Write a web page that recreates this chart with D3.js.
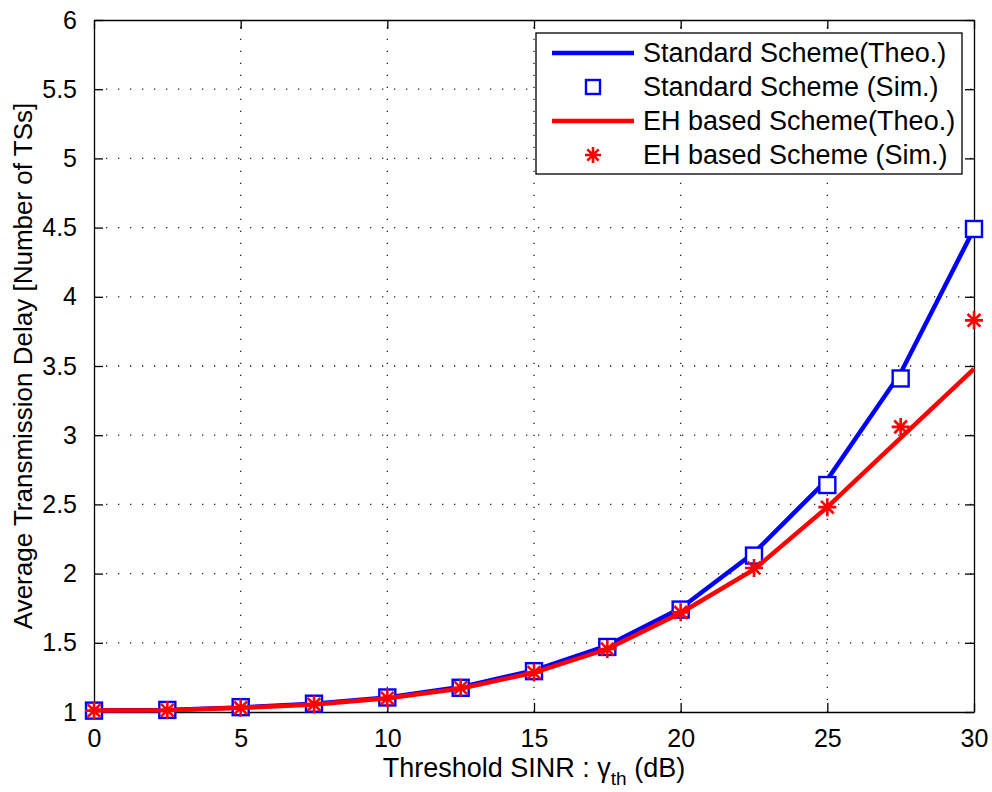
<!DOCTYPE html>
<html>
<head>
<meta charset="utf-8">
<script src="https://cdn.jsdelivr.net/npm/d3@7"></script>
<style>
  body { margin: 0; background: #fff; }
  svg text { font-family: "Liberation Sans", Arial, sans-serif; fill: #000; }
</style>
</head>
<body>
<div id="chart"></div>
<script>
// 数据：门限 SINR (dB) 与平均传输时延
const snr = [0, 2.5, 5, 7.5, 10, 12.5, 15, 17.5, 20, 22.5, 25, 27.5, 30];
const stdTheo = [1.01, 1.015, 1.033, 1.06, 1.105, 1.18, 1.30, 1.48, 1.75, 2.15, 2.68, 3.45, 4.49];
const stdSim  = [1.01, 1.015, 1.035, 1.06, 1.105, 1.175, 1.295, 1.47, 1.74, 2.13, 2.64, 3.41, 4.49];
const ehTheo  = [1.01, 1.013, 1.03, 1.055, 1.10, 1.17, 1.285, 1.455, 1.715, 2.03, 2.48, 2.98, 3.48];
const ehSim   = [1.01, 1.013, 1.03, 1.055, 1.10, 1.175, 1.285, 1.455, 1.72, 2.04, 2.48, 3.06, 3.83];
const xTicks = [0, 5, 10, 15, 20, 25, 30];
const yTicks = [1, 1.5, 2, 2.5, 3, 3.5, 4, 4.5, 5, 5.5, 6];
const legendLabels = ["Standard Scheme(Theo.)", "Standard Scheme (Sim.)", "EH based Scheme(Theo.)", "EH based Scheme (Sim.)"];

const width = 992, height = 792;
const margin = { left: 94, right: 18, top: 20, bottom: 80 };
const tickFont = 25, labelFont = 27;

const svg = d3.select("#chart").append("svg")
  .attr("width", width)
  .attr("height", height);

const x = d3.scaleLinear().domain([0, 30]).range([margin.left, width - margin.right]);
const y = d3.scaleLinear().domain([1, 6]).range([height - margin.bottom, margin.top]);

const x0 = x.range()[0], x1 = x.range()[1];
const y0 = y.range()[0], y1 = y.range()[1];

// 网格（点线）
const grid = svg.append("g").attr("class", "grid");
grid.selectAll("line.gx").data(xTicks.slice(1, -1)).enter().append("line")
  .attr("x1", d => x(d)).attr("x2", d => x(d))
  .attr("y1", y0).attr("y2", y1)
  .style("stroke", "#222").style("stroke-width", 1.3)
  .style("stroke-dasharray", "1.3,10.7");
grid.selectAll("line.gy").data(yTicks.slice(1, -1)).enter().append("line")
  .attr("y1", d => y(d)).attr("y2", d => y(d))
  .attr("x1", x0).attr("x2", x1)
  .style("stroke", "#222").style("stroke-width", 1.3)
  .style("stroke-dasharray", "1.3,10.7");

// 坐标轴（刻度向内）
const tickLen = 9;
svg.append("g")
  .attr("transform", `translate(0,${y0})`)
  .call(d3.axisBottom(x).tickValues(xTicks).tickSizeInner(-tickLen).tickSizeOuter(0).tickPadding(17));
svg.append("g")
  .attr("transform", `translate(0,${y1})`)
  .call(d3.axisTop(x).tickValues(xTicks).tickSizeInner(-tickLen).tickSizeOuter(0).tickFormat(""));
svg.append("g")
  .attr("transform", `translate(${x0},0)`)
  .call(d3.axisLeft(y).tickValues(yTicks).tickSizeInner(-tickLen).tickSizeOuter(0).tickPadding(17).tickFormat(d3.format("")));
svg.append("g")
  .attr("transform", `translate(${x1},0)`)
  .call(d3.axisRight(y).tickValues(yTicks).tickSizeInner(-tickLen).tickSizeOuter(0).tickFormat(""));

svg.selectAll(".domain").style("stroke", "#000").style("stroke-width", 1.3);
svg.selectAll(".tick line").style("stroke", "#000").style("stroke-width", 1.3);
svg.selectAll(".tick text")
  .style("font-size", tickFont + "px")
  .style("font-family", '"Liberation Sans", Arial, sans-serif');

// 轴标题
const xLabel = svg.append("text")
  .attr("x", (x0 + x1) / 2)
  .attr("y", 777)
  .attr("text-anchor", "middle")
  .style("font-size", labelFont + "px");
xLabel.append("tspan").text("Threshold SINR : ");
xLabel.append("tspan").text("γ");
xLabel.append("tspan").attr("dy", 8).style("font-size", "19px").text("th");
xLabel.append("tspan").attr("dy", -8).text(" (dB)");

svg.append("text")
  .attr("transform", `translate(32,${(y0 + y1) / 2}) rotate(-90)`)
  .attr("text-anchor", "middle")
  .style("font-size", "26px")
  .text("Average Transmission Delay [Number of TSs]");

// 曲线与标记
const line = d3.line().x((d, i) => x(snr[i])).y(d => y(d));
const plot = svg.append("g").attr("class", "plot");

function starPath(r) {
  const d = r * Math.SQRT1_2;
  return `M${-r},0L${r},0M0,${-r}L0,${r}M${-d},${-d}L${d},${d}M${-d},${d}L${d},${-d}`;
}
function drawSquares(g, data) {
  g.selectAll("rect.sq").data(data).enter().append("rect")
    .attr("class", "sq")
    .attr("x", (d, i) => x(snr[i]) - 8).attr("y", d => y(d) - 8)
    .attr("width", 16).attr("height", 16)
    .style("fill", "#fff").style("stroke", "#0000ff").style("stroke-width", 2.4);
}
function drawStars(g, data) {
  g.selectAll("path.star").data(data).enter().append("path")
    .attr("class", "star")
    .attr("transform", (d, i) => `translate(${x(snr[i])},${y(d)})`)
    .attr("d", starPath(9))
    .style("stroke", "#ff0000").style("stroke-width", 2.6).style("fill", "none");
}

plot.append("path").datum(stdTheo).attr("d", line)
  .style("fill", "none").style("stroke", "#0000ff").style("stroke-width", 4.5);
drawSquares(plot.append("g"), stdSim);
plot.append("path").datum(ehTheo).attr("d", line)
  .style("fill", "none").style("stroke", "#ff0000").style("stroke-width", 4.5);
drawStars(plot.append("g"), ehSim);

// 图例
const legend = svg.append("g").attr("class", "legend");
legend.append("rect")
  .attr("x", 536).attr("y", 33).attr("width", 426).attr("height", 141)
  .style("fill", "#fff").style("stroke", "#000").style("stroke-width", 1.3);
const rowY = [53, 87, 121, 155];
legendLabels.forEach(function (label, i) {
  const ly = rowY[i];
  const g = legend.append("g").attr("transform", `translate(0,${ly})`);
  if (i === 0 || i === 2) {
    g.append("line").attr("x1", 552).attr("x2", 634).attr("y1", 0).attr("y2", 0)
      .style("stroke", i === 0 ? "#0000ff" : "#ff0000").style("stroke-width", 4.5);
  } else if (i === 1) {
    g.append("rect").attr("x", 586).attr("y", -7).attr("width", 14).attr("height", 14)
      .style("fill", "#fff").style("stroke", "#0000ff").style("stroke-width", 2.4);
  } else {
    g.append("path").attr("transform", "translate(593,0)").attr("d", starPath(8))
      .style("stroke", "#ff0000").style("stroke-width", 2.6).style("fill", "none");
  }
  g.append("text").attr("x", 643).attr("y", 0).attr("dy", "0.35em")
    .style("font-size", labelFont + "px").text(label);
});
</script>
</body>
</html>
